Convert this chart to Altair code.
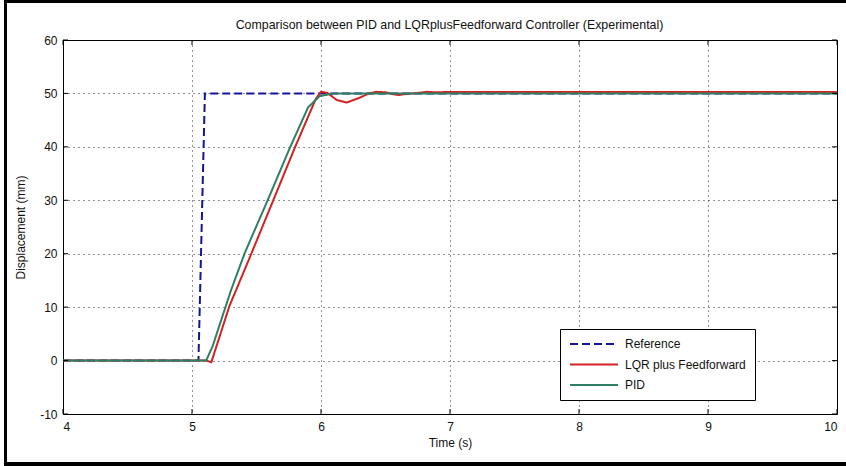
import altair as alt
import pandas as pd

# Series values (time in s, displacement in mm)
ref_t = [4.0, 5.05, 5.10, 10.0]
ref_y = [0.0, 0.0, 50.0, 50.0]

lqr_t = [4.0, 5.11, 5.15, 5.29, 5.46, 5.63, 5.80, 5.96, 6.00, 6.05, 6.12, 6.20,
         6.30, 6.37, 6.43, 6.50, 6.55, 6.60, 6.66, 6.75, 6.82, 6.90, 6.95, 10.0]
lqr_y = [0.0, 0.0, -0.3, 10.2, 20.0, 30.0, 40.0, 49.0, 50.3, 50.1, 48.8, 48.3,
         49.2, 50.0, 50.3, 50.2, 49.9, 49.7, 49.9, 50.1, 50.3, 50.2, 50.25, 50.25]

pid_t = [4.0, 5.11, 5.16, 5.30, 5.41, 5.59, 5.76, 5.90, 5.99, 6.10, 10.0]
pid_y = [0.0, 0.0, 2.7, 13.0, 20.2, 30.2, 39.9, 47.4, 49.5, 50.0, 50.0]

series_names = ["Reference", "LQR plus Feedforward", "PID"]
series_colors = ["#14149a", "#d42222", "#2e8063"]
series_dash = [[8, 4], [1, 0], [1, 0]]

x_ticks = [4, 5, 6, 7, 8, 9, 10]
y_ticks = [-10, 0, 10, 20, 30, 40, 50, 60]

title_text = "Comparison between PID and LQRplusFeedforward Controller (Experimental)"

W, H = 774, 374
FONT = "Liberation Sans"
INK = "#111111"

xs = alt.Scale(domain=[4, 10], nice=False, zero=False)
ys = alt.Scale(domain=[-10, 60], nice=False, zero=False)

color_scale = alt.Scale(domain=series_names, range=series_colors)
dash_scale = alt.Scale(domain=series_names, range=series_dash)

legend = alt.Legend(
    title=None, orient="none", legendX=497, legendY=289,
    symbolType="stroke", symbolSize=2304, symbolStrokeWidth=2,
    labelFont=FONT, labelFontSize=12, labelColor=INK,
    strokeColor="black", fillColor="white", padding=9,
    clipHeight=12, rowPadding=8.5, labelOffset=6,
)

x_axis = alt.Axis(values=x_ticks, title="Time (s)", labelExpr="'' + datum.value",
                  titleFontWeight="normal")
y_axis = alt.Axis(values=y_ticks, title="Displacement (mm)", labelExpr="'' + datum.value",
                  titleFontWeight="normal")


def series_layer(name, t, y):
    df = pd.DataFrame({"t": t, "y": y, "series": name, "i": range(len(t))})
    return alt.Chart(df).mark_line(strokeWidth=2).encode(
        x=alt.X("t:Q", scale=xs, axis=x_axis),
        y=alt.Y("y:Q", scale=ys, axis=y_axis),
        order="i:Q",
        color=alt.Color("series:N", scale=color_scale, legend=legend),
        strokeDash=alt.StrokeDash("series:N", scale=dash_scale, legend=legend),
    )


xt = pd.DataFrame({"v": x_ticks})
yt = pd.DataFrame({"v": y_ticks})
tick_len = 5

# inward tick marks on all four sides
x_ticks_top = alt.Chart(xt).mark_rule(color="black", strokeWidth=1).encode(
    x=alt.X("v:Q", scale=xs), y=alt.value(0), y2=alt.value(tick_len))
x_ticks_bot = alt.Chart(xt).mark_rule(color="black", strokeWidth=1).encode(
    x=alt.X("v:Q", scale=xs), y=alt.value(H - tick_len), y2=alt.value(H))
y_ticks_l = alt.Chart(yt).mark_rule(color="black", strokeWidth=1).encode(
    y=alt.Y("v:Q", scale=ys), x=alt.value(0), x2=alt.value(tick_len))
y_ticks_r = alt.Chart(yt).mark_rule(color="black", strokeWidth=1).encode(
    y=alt.Y("v:Q", scale=ys), x=alt.value(W - tick_len), x2=alt.value(W))

one = pd.DataFrame({"a": [0]})

# figure frame: left, top and bottom edges
frame_left = alt.Chart(one).mark_rule(color="black", strokeWidth=3).encode(
    x=alt.value(-57.5), y=alt.value(-40), y2=alt.value(426))
frame_top = alt.Chart(one).mark_rule(color="black", strokeWidth=3).encode(
    x=alt.value(-59), x2=alt.value(W + 9), y=alt.value(-38.5))
frame_bot = alt.Chart(one).mark_rule(color="black", strokeWidth=4).encode(
    x=alt.value(-59), x2=alt.value(W + 9), y=alt.value(424))

# chart title, centred over the axes
title = alt.Chart(one).mark_text(
    text=title_text, font=FONT, fontSize=12.4, color=INK, align="center", baseline="middle"
).encode(x=alt.value(W / 2 - 0.5), y=alt.value(-15))

chart = alt.layer(
    series_layer("Reference", ref_t, ref_y),
    series_layer("LQR plus Feedforward", lqr_t, lqr_y),
    series_layer("PID", pid_t, pid_y),
    x_ticks_top, x_ticks_bot, y_ticks_l, y_ticks_r,
    frame_left, frame_top, frame_bot, title,
).properties(
    width=W, height=H,
    background="white",
    autosize=alt.AutoSizeParams(type="none"),
    padding={"left": 63, "top": 40, "right": 9, "bottom": 52},
).configure_view(
    stroke="black", strokeWidth=1
).configure_axis(
    labelFont=FONT, labelFontSize=12, labelColor=INK,
    titleFont=FONT, titleFontSize=12, titleFontWeight="normal", titleColor=INK,
    domain=False, ticks=False,
    grid=True, gridColor="black", gridDash=[1, 4], gridOpacity=0.85, gridWidth=1,
).configure_axisX(
    labelPadding=7, titlePadding=5,
).configure_axisY(
    labelPadding=6, titlePadding=12,
)

chart.save("out.html", embed_options={"renderer": "svg", "actions": False})
